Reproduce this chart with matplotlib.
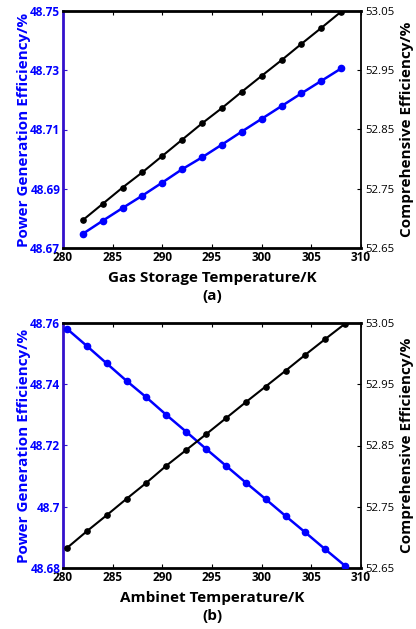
import matplotlib
matplotlib.use("Agg")
import matplotlib.pyplot as plt

# ---- data ----
x_a = [282, 284, 286, 288, 290, 292, 294, 296, 298, 300, 302, 304, 306, 308]
power_a = [48.6748, 48.6792, 48.6835, 48.6877, 48.6921, 48.6966, 48.7006,
           48.7049, 48.7093, 48.7136, 48.7179, 48.7222, 48.7264, 48.7306]
comp_a = [52.6971, 52.7246, 52.7521, 52.7779, 52.8054, 52.8329, 52.8604,
          52.8862, 52.9137, 52.9406, 52.9670, 52.9945, 53.0214, 53.0489]

x_b = [280.4, 282.4, 284.4, 286.4, 288.4, 290.4, 292.4, 294.4, 296.4, 298.4,
       300.4, 302.4, 304.4, 306.4, 308.4]
power_b = [48.7581, 48.7525, 48.7468, 48.7411, 48.7357, 48.7300, 48.7245,
           48.7189, 48.7134, 48.7079, 48.7025, 48.6970, 48.6916, 48.6861, 48.6807]
comp_b = [52.6827, 52.7100, 52.7362, 52.7630, 52.7892, 52.8170, 52.8426,
          52.8683, 52.8945, 52.9207, 52.9463, 52.9720, 52.9982, 53.0238, 53.0489]

xticks = [280, 285, 290, 295, 300, 305, 310]
left_ticks_a = [48.67, 48.69, 48.71, 48.73, 48.75]
left_labels_a = ["48.67", "48.69", "48.71", "48.73", "48.75"]
left_ticks_b = [48.68, 48.70, 48.72, 48.74, 48.76]
left_labels_b = ["48.68", "48.7", "48.72", "48.74", "48.76"]
right_ticks = [52.65, 52.75, 52.85, 52.95, 53.05]
right_labels = ["52.65", "52.75", "52.85", "52.95", "53.05"]

plt.rcParams['font.family'] = ['Open Sans', 'DejaVu Sans']

BLUE = '#0000ff'
SPINE_BLUE = '#3311cc'
W, H = 416, 629
fig = plt.figure(figsize=(W / 100, H / 100), dpi=100)


def panel(rect, hpx, x, p, c, lt, ll, xlabel, tag):
    ax = fig.add_axes(rect)
    ax.plot(x, p, color=BLUE, lw=1.8, marker='o', ms=4.5, zorder=3)
    ax.set_xlim(280, 310)
    ax.set_ylim(lt[0], lt[-1])
    ax.set_xticks(xticks)
    ax.set_xticklabels([str(t) for t in xticks], fontsize=8.5, fontweight='bold')
    ax.set_yticks(lt)
    ax.set_yticklabels(ll, fontsize=8.5, fontweight='bold', color=BLUE)
    ax.tick_params(axis='both', direction='in', length=3, width=0.8, pad=2)
    ax.tick_params(axis='x', top=True, pad=2)
    ax.tick_params(axis='y', colors=SPINE_BLUE, labelcolor=BLUE)
    ax.set_ylabel("Power Generation Efficiency/%", color=BLUE, fontsize=11,
                  fontweight='bold', labelpad=-1)
    ax.set_xlabel(xlabel, fontsize=11, fontweight='bold', labelpad=5)
    for s in ['top', 'bottom']:
        ax.spines[s].set_linewidth(2)
    ax.spines['left'].set_linewidth(2)
    ax.spines['left'].set_color(SPINE_BLUE)
    ax.spines['right'].set_visible(False)

    ax2 = ax.twinx()
    ax2.plot(x, c, color='black', lw=1.5, marker='o', ms=3.8, zorder=3)
    ax2.set_ylim(right_ticks[0], right_ticks[-1])
    ax2.set_yticks(right_ticks)
    ax2.set_yticklabels(right_labels, fontsize=8.2)
    ax2.tick_params(axis='y', direction='in', length=3, width=0.8, pad=3)
    ax2.set_ylabel("Comprehensive Efficiency/%", fontsize=11, fontweight='bold',
                   labelpad=4)
    ax2.spines['right'].set_linewidth(1.3)
    ax2.spines['left'].set_visible(False)
    ax2.spines['top'].set_visible(False)
    ax2.spines['bottom'].set_visible(False)
    ax.text(0.5, -41 / hpx, tag, transform=ax.transAxes, ha='center', va='top',
            fontsize=11, fontweight='bold')
    return ax


panel([63 / W, 1 - 248 / H, 298 / W, 237 / H], 237, x_a, power_a, comp_a,
      left_ticks_a, left_labels_a, "Gas Storage Temperature/K", "(a)")
panel([63 / W, 1 - 568 / H, 298 / W, 245 / H], 245, x_b, power_b, comp_b,
      left_ticks_b, left_labels_b, "Ambinet Temperature/K", "(b)")

fig.savefig("out.png", dpi=100)
